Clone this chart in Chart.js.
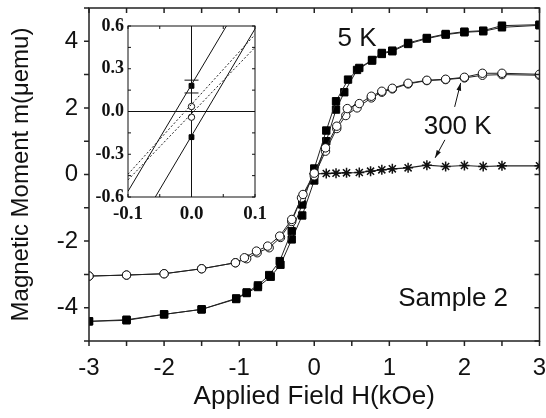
<!DOCTYPE html>
<html>
<head>
<meta charset="utf-8">
<script src="https://cdn.jsdelivr.net/npm/chart.js@4"></script>
<style>
  html, body { margin: 0; padding: 0; background: #fff; }
  #wrap { position: relative; width: 546px; height: 418px; }
  #main { position: absolute; left: 0; top: 0; }
  #inset { position: absolute; left: 80px; top: 12px; }
</style>
</head>
<body>
<div id="wrap">
  <canvas id="main" width="546" height="418"></canvas>
  <canvas id="inset" width="200" height="220"></canvas>
</div>
<script>
// 5 K loop (filled squares), field coming down from +3 kOe
const field5KDown = [3, 2.5, 2.25, 2, 1.75, 1.5, 1.25, 1.04, 0.9, 0.77, 0.6, 0.45, 0.29, 0.16, 0, -0.16, -0.3, -0.46, -0.6, -0.75, -0.9, -1.04, -1.5, -2, -2.5, -3];
const moment5KDown = [4.5, 4.47, 4.32, 4.29, 4.22, 4.1, 3.95, 3.72, 3.65, 3.44, 3.2, 2.85, 2.2, 1.32, 0.18, -0.9, -1.7, -2.6, -3.02, -3.33, -3.54, -3.72, -4.05, -4.2, -4.38, -4.41];
// 5 K loop, field going back up
const field5KUp = [-3, -2.5, -2, -1.5, -1.04, -0.9, -0.75, -0.58, -0.45, -0.3, -0.16, 0, 0.16, 0.29, 0.4, 0.57, 0.77, 0.9, 1.04, 1.25, 1.5, 1.75, 2, 2.25, 2.5, 3];
const moment5KUp = [-4.41, -4.36, -4.2, -4.05, -3.74, -3.56, -3.38, -3.07, -2.71, -1.95, -1.23, -0.18, 1.0, 1.95, 2.47, 3.14, 3.42, 3.62, 3.7, 3.92, 4.08, 4.2, 4.27, 4.3, 4.42, 4.48];

// 300 K loop (open circles)
const field300KDown = [3, 2.5, 2.24, 2, 1.75, 1.5, 1.25, 1.04, 0.9, 0.76, 0.6, 0.44, 0.3, 0.15, 0, -0.15, -0.3, -0.46, -0.62, -0.77, -0.93, -1.05, -1.5, -2, -2.5, -3];
const moment300KDown = [3.01, 3.04, 3.04, 2.92, 2.86, 2.83, 2.74, 2.59, 2.5, 2.35, 2.13, 1.98, 1.45, 0.8, 0.04, -0.6, -1.35, -1.85, -2.15, -2.3, -2.5, -2.65, -2.83, -2.98, -3.02, -3.05];
const field300KUp = [-3, -2.5, -2, -1.5, -1.05, -0.9, -0.76, -0.6, -0.45, -0.3, -0.17, 0, 0.15, 0.3, 0.42, 0.57, 0.76, 0.9, 1.04, 1.25, 1.5, 1.75, 2, 2.24, 2.5, 3];
const moment300KUp = [-3.05, -3.02, -2.98, -2.83, -2.65, -2.53, -2.35, -2.2, -1.89, -1.41, -0.7, -0.04, 0.7, 1.38, 1.77, 2.0, 2.3, 2.47, 2.57, 2.72, 2.82, 2.85, 2.9, 2.98, 3.0, 2.98];

// asterisk series
const fieldStar = [0, 0.16, 0.29, 0.43, 0.6, 0.75, 0.9, 1.04, 1.25, 1.5, 1.75, 2, 2.25, 2.5, 3];
const momentStar = [0.02, 0.03, 0.04, 0.05, 0.06, 0.1, 0.14, 0.17, 0.2, 0.28, 0.24, 0.27, 0.24, 0.26, 0.26];

// inset: zoom around zero field
const insetField5KA = [-0.1, 0.055];
const insetMoment5KA = [-0.56, 0.6];
const insetField5KB = [-0.057, 0.1];
const insetMoment5KB = [-0.6, 0.58];
const insetField300KA = [-0.1, 0.1];
const insetMoment300KA = [-0.44, 0.54];
const insetField300KB = [-0.1, 0.1];
const insetMoment300KB = [-0.48, 0.45];
const remanence5K = [0.18, -0.18];
const remanence300K = [0.035, -0.04];
const errorBar = [0.13, 0.22];
const errorCap = 0.011;

const FONT = 'Arial, "Liberation Sans", sans-serif';
const SERIF = '"Times New Roman", "Liberation Serif", serif';
const INK = '#111';

function toXY(xs, ys) {
  return xs.map((v, i) => ({ x: v, y: ys[i] }));
}

// box around the plot plus tick marks on all four sides
const frameTicks = {
  id: 'frameTicks',
  afterDraw(chart, args, o) {
    const { ctx, chartArea: a, scales: { x, y } } = chart;
    ctx.save();
    ctx.strokeStyle = o.color;
    ctx.lineWidth = o.width;
    ctx.strokeRect(a.left, a.top, a.right - a.left, a.bottom - a.top);
    ctx.beginPath();
    const nx = Math.round((x.max - x.min) / o.xStep);
    for (let i = 0; i <= nx; i++) {
      const px = x.getPixelForValue(x.min + i * o.xStep);
      ctx.moveTo(px, a.bottom); ctx.lineTo(px, a.bottom + o.bottom);
      ctx.moveTo(px, a.top); ctx.lineTo(px, a.top + o.top);
    }
    const ny = Math.round((y.max - y.min) / o.yStep);
    for (let i = 0; i <= ny; i++) {
      const py = y.getPixelForValue(y.min + i * o.yStep);
      ctx.moveTo(a.left, py); ctx.lineTo(a.left + o.left, py);
      ctx.moveTo(a.right, py); ctx.lineTo(a.right + o.right, py);
    }
    ctx.stroke();
    ctx.restore();
  }
};

const notes = [
  { text: '5 K', x: 0.57, y: 4.08 },
  { text: '300 K', x: 1.91, y: 1.43 },
  { text: 'Sample 2', x: 1.85, y: -3.74 }
];
const arrows = [
  { x0: 1.87, y0: 2.03, x1: 1.95, y1: 2.75 },
  { x0: 1.74, y0: 1.04, x1: 1.61, y1: 0.5 }
];

const labelPlugin = {
  id: 'labelPlugin',
  afterDatasetsDraw(chart) {
    const { ctx, scales: { x, y } } = chart;
    ctx.save();
    ctx.fillStyle = INK;
    ctx.font = '26px ' + FONT;
    ctx.textAlign = 'center';
    ctx.textBaseline = 'middle';
    notes.forEach(n => ctx.fillText(n.text, x.getPixelForValue(n.x), y.getPixelForValue(n.y)));
    ctx.strokeStyle = INK;
    ctx.lineWidth = 1;
    arrows.forEach(ar => {
      const ax = x.getPixelForValue(ar.x0), ay = y.getPixelForValue(ar.y0);
      const bx = x.getPixelForValue(ar.x1), by = y.getPixelForValue(ar.y1);
      const ang = Math.atan2(by - ay, bx - ax);
      ctx.beginPath();
      ctx.moveTo(ax, ay); ctx.lineTo(bx, by);
      ctx.stroke();
      ctx.beginPath();
      ctx.moveTo(bx, by);
      ctx.lineTo(bx - 8 * Math.cos(ang - 0.3), by - 8 * Math.sin(ang - 0.3));
      ctx.lineTo(bx - 8 * Math.cos(ang + 0.3), by - 8 * Math.sin(ang + 0.3));
      ctx.closePath();
      ctx.fill();
    });
    ctx.restore();
  }
};

const squareStyle = {
  showLine: true, borderColor: '#222', borderWidth: 1,
  pointStyle: 'rect', pointRadius: 5.2, pointBackgroundColor: '#000',
  pointBorderColor: '#000', pointBorderWidth: 1
};
const circleStyle = {
  showLine: true, borderColor: '#222', borderWidth: 1,
  pointStyle: 'circle', pointRadius: 4.2, pointBackgroundColor: '#fff',
  pointBorderColor: '#111', pointBorderWidth: 1
};

new Chart(document.getElementById('main'), {
  type: 'scatter',
  data: {
    datasets: [
      Object.assign({ data: toXY(field300KDown, moment300KDown) }, circleStyle),
      Object.assign({ data: toXY(field300KUp, moment300KUp) }, circleStyle),
      Object.assign({ data: toXY(field5KDown, moment5KDown) }, squareStyle),
      Object.assign({ data: toXY(field5KUp, moment5KUp) }, squareStyle),
      {
        data: toXY(fieldStar, momentStar), showLine: true, borderColor: '#222', borderWidth: 1.2,
        pointStyle: 'star', pointRadius: 5, pointBorderColor: '#111', pointBorderWidth: 1.5
      }
    ]
  },
  options: {
    responsive: false,
    animation: false,
    layout: { padding: { left: 0, right: 5, top: 8, bottom: 0 } },
    plugins: {
      legend: { display: false },
      tooltip: { enabled: false },
      frameTicks: { color: '#222', width: 1.5, xStep: 0.5, yStep: 1, bottom: 5, top: 5, left: -5, right: -5 }
    },
    scales: {
      x: {
        min: -3, max: 3,
        ticks: { stepSize: 1, color: INK, padding: 13, font: { family: FONT, size: 24 } },
        grid: { display: false, drawTicks: false },
        border: { display: false },
        title: { display: true, text: 'Applied Field H(kOe)', color: INK, font: { family: FONT, size: 26 }, padding: { top: 0, bottom: 6 } },
        afterFit(s) { s.height = 77; s.paddingLeft = 0; s.paddingRight = 0; }
      },
      y: {
        min: -5, max: 5,
        ticks: {
          stepSize: 1, autoSkip: false, color: INK, padding: 11, font: { family: FONT, size: 24 },
          callback: v => (v % 2 === 0 ? String(v) : '')
        },
        grid: { display: false, drawTicks: false },
        border: { display: false },
        title: { display: true, text: 'Magnetic Moment m(μemu)', color: INK, font: { family: FONT, size: 24 }, padding: { top: 7, bottom: 0 } },
        afterFit(s) { s.width = 89; s.paddingTop = 0; s.paddingBottom = 0; }
      }
    }
  },
  plugins: [frameTicks, labelPlugin]
});

const solid = { showLine: true, borderColor: '#111', borderWidth: 1, pointRadius: 0 };
const dashed = { showLine: true, borderColor: '#222', borderWidth: 1, borderDash: [2, 2], pointRadius: 0 };

new Chart(document.getElementById('inset'), {
  type: 'scatter',
  data: {
    datasets: [
      Object.assign({ data: toXY(insetField5KA, insetMoment5KA) }, solid),
      Object.assign({ data: toXY(insetField5KB, insetMoment5KB) }, solid),
      Object.assign({ data: toXY(insetField300KA, insetMoment300KA) }, dashed),
      Object.assign({ data: toXY(insetField300KB, insetMoment300KB) }, dashed),
      Object.assign({ data: toXY([-errorCap, errorCap], [errorBar[1], errorBar[1]]) }, solid),
      Object.assign({ data: toXY([-errorCap, errorCap], [errorBar[0], errorBar[0]]) }, solid),
      Object.assign({ data: toXY([0, 0], errorBar) }, solid),
      {
        data: toXY([0, 0], remanence5K), pointStyle: 'rect', pointRadius: 3.4,
        pointBackgroundColor: '#000', pointBorderColor: '#000'
      },
      {
        data: toXY([0, 0], remanence300K), pointStyle: 'circle', pointRadius: 3.2,
        pointBackgroundColor: '#fff', pointBorderColor: '#111', pointBorderWidth: 1
      }
    ]
  },
  options: {
    responsive: false,
    animation: false,
    layout: { padding: { left: 0, right: 25, top: 14, bottom: 0 } },
    plugins: {
      legend: { display: false },
      tooltip: { enabled: false },
      frameTicks: { color: '#111', width: 1, xStep: 0.05, yStep: 0.15, bottom: -3, top: 3, left: 3, right: -3 }
    },
    scales: {
      x: {
        min: -0.1, max: 0.1,
        ticks: {
          stepSize: 0.1, color: INK, padding: 6, font: { family: SERIF, size: 19, weight: 'bold' },
          callback: v => v.toFixed(1)
        },
        grid: { color: c => (Math.abs(c.tick.value) < 1e-9 ? '#111' : 'rgba(0,0,0,0)'), drawTicks: false },
        border: { display: false },
        afterFit(s) { s.height = 35; s.paddingLeft = 0; s.paddingRight = 0; }
      },
      y: {
        min: -0.6, max: 0.6,
        ticks: {
          stepSize: 0.3, color: INK, padding: 4, font: { family: SERIF, size: 18, weight: 'bold' },
          callback: v => v.toFixed(1)
        },
        grid: { color: c => (Math.abs(c.tick.value) < 1e-9 ? '#111' : 'rgba(0,0,0,0)'), drawTicks: false },
        border: { display: false },
        afterFit(s) { s.width = 48; s.paddingTop = 0; s.paddingBottom = 0; }
      }
    }
  },
  plugins: [frameTicks]
});
</script>
</body>
</html>
